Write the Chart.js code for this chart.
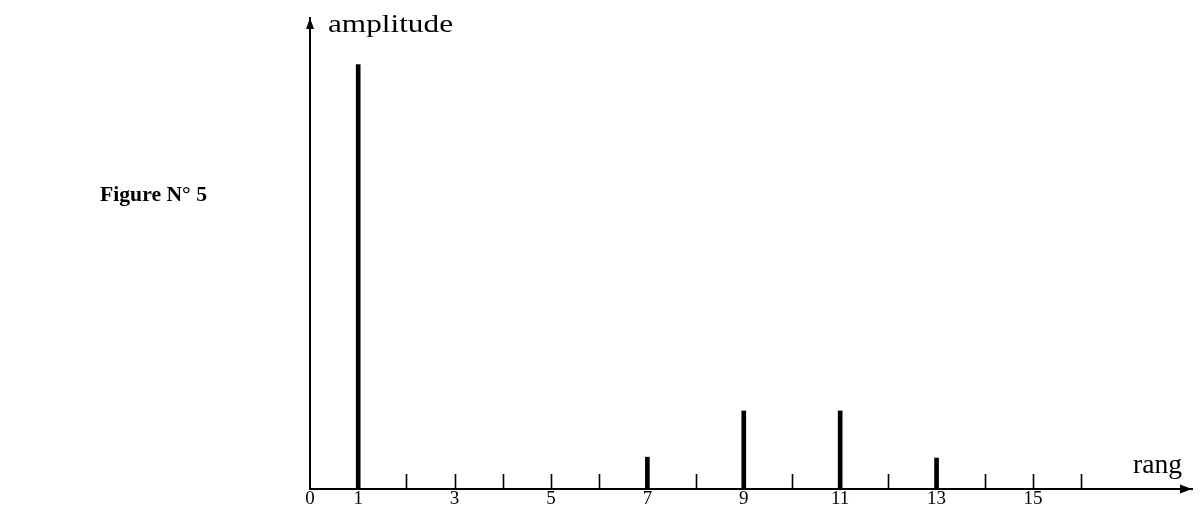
<!DOCTYPE html>
<html><head><meta charset="utf-8">
<script src="https://cdn.jsdelivr.net/npm/chart.js@4/dist/chart.umd.min.js"></script>
<style>html,body{margin:0;padding:0;background:#fff;}canvas{display:block}</style>
</head><body>
<canvas id="c" width="1200" height="510"></canvas>
<script>
// Data
const ranks = [1, 7, 9, 11, 13];
const amplitudes = [100, 7.5, 18.4, 18.4, 7.3];
const tickLabels = ['0', '1', '3', '5', '7', '9', '11', '13', '15'];
const minorTicks = [2, 3, 4, 5, 6, 8, 10, 12, 14, 15, 16];
const yTitle = 'amplitude';
const xTitle = 'rang';
const figureTitle = 'Figure N° 5';

const SERIF = '"Liberation Serif", "DejaVu Serif", serif';

function fitText(ctx, text, x, y, font, width) {
  ctx.save();
  ctx.font = font;
  const w = ctx.measureText(text).width;
  ctx.translate(x, y);
  ctx.scale(width / w, 1);
  ctx.fillText(text, 0, 0);
  ctx.restore();
}

const decor = {
  id: 'decor',
  afterDatasetsDraw(chart) {
    const ctx = chart.ctx;
    const xs = chart.scales.x, ys = chart.scales.y;
    const y0 = ys.getPixelForValue(0);
    const x0 = xs.getPixelForValue(0);
    ctx.save();
    ctx.strokeStyle = '#000';
    ctx.fillStyle = '#000';
    ctx.lineWidth = 1.6;
    minorTicks.forEach(v => {
      const px = Math.round(xs.getPixelForValue(v)) + 0.5;
      ctx.beginPath();
      ctx.moveTo(px, y0);
      ctx.lineTo(px, y0 - 15);
      ctx.stroke();
    });
    // arrow on y axis
    const top = chart.chartArea.top;
    ctx.beginPath();
    ctx.moveTo(x0, top);
    ctx.lineTo(x0 - 4, top + 11);
    ctx.lineTo(x0 + 4, top + 11);
    ctx.closePath();
    ctx.fill();
    // arrow on x axis
    const right = chart.chartArea.right;
    ctx.beginPath();
    ctx.moveTo(right, y0);
    ctx.lineTo(right - 12, y0 - 4.5);
    ctx.lineTo(right - 12, y0 + 4.5);
    ctx.closePath();
    ctx.fill();
    // texts
    ctx.textBaseline = 'alphabetic';
    ctx.textAlign = 'left';
    fitText(ctx, yTitle, 328, 32, '26px ' + SERIF, 125);
    fitText(ctx, xTitle, 1133, 473, '28px ' + SERIF, 49);
    fitText(ctx, figureTitle, 100, 201, 'bold 22px ' + SERIF, 107);
    ctx.restore();
  }
};

new Chart(document.getElementById('c'), {
  type: 'bar',
  data: {
    datasets: [{
      data: ranks.map((r, i) => ({ x: r, y: amplitudes[i] })),
      backgroundColor: '#000',
      borderWidth: 0,
      barThickness: 4
    }]
  },
  options: {
    responsive: false,
    animation: false,
    devicePixelRatio: 1,
    layout: { padding: { left: 310, right: 8, top: 18, bottom: 0 } },
    plugins: { legend: { display: false }, tooltip: { enabled: false } },
    scales: {
      x: {
        type: 'linear',
        min: 0,
        max: 18.3,
        offset: false,
        grid: { display: false, drawTicks: false, tickLength: 0 },
        border: { display: true, color: '#000', width: 2 },
        afterFit: s => { s.height = 21; },
        ticks: {
          stepSize: 1,
          autoSkip: false,
          maxRotation: 0,
          padding: -1,
          color: '#000',
          font: { family: SERIF, size: 19 },
          callback: v => tickLabels.includes(String(v)) ? String(v) : null
        }
      },
      y: {
        min: 0,
        max: 111,
        grid: { display: false, drawTicks: false },
        border: { display: true, color: '#000', width: 2 },
        afterFit: s => { s.width = 0; },
        ticks: { display: false }
      }
    }
  },
  plugins: [decor]
});
</script>
</body></html>
